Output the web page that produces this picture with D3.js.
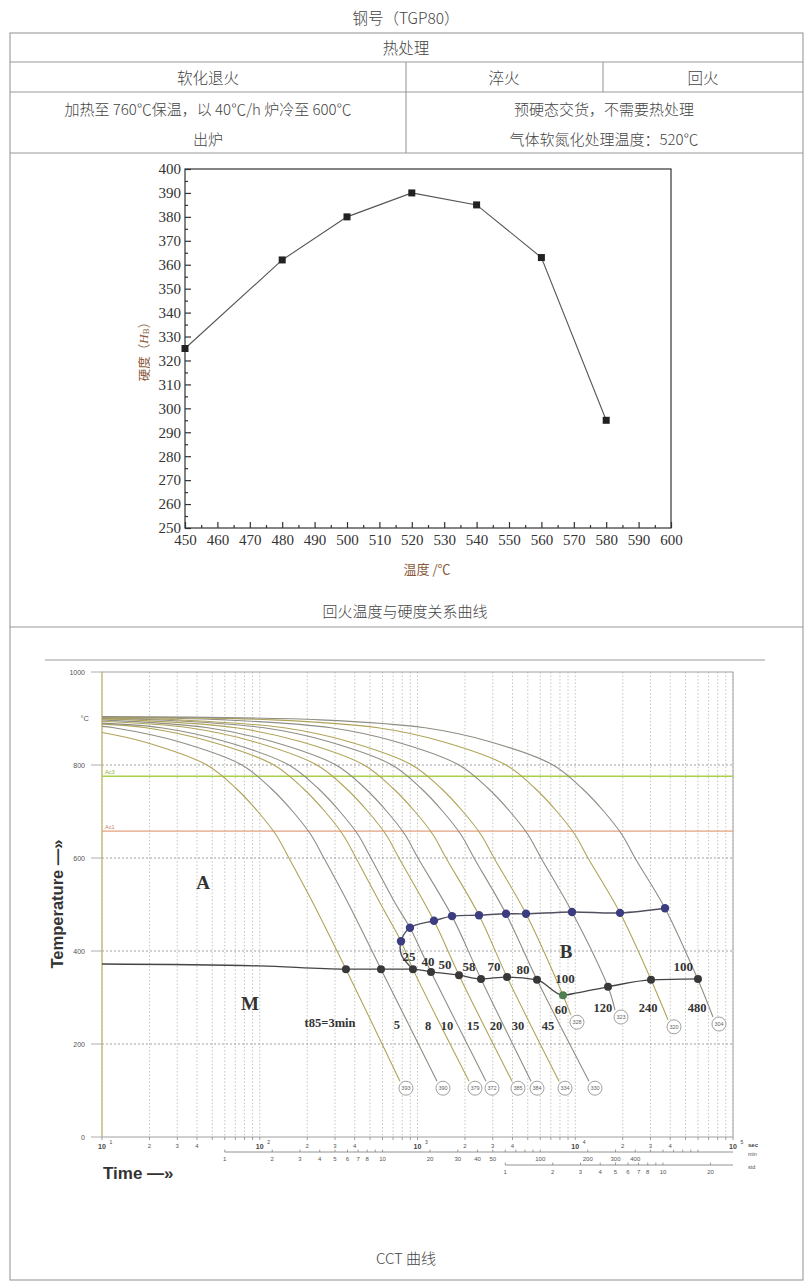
<!DOCTYPE html>
<html><head><meta charset="utf-8">
<script src="https://cdn.jsdelivr.net/npm/d3@7"></script>
<style>body{margin:0;background:#fff}</style>
</head><body>
<svg id="c" width="812" height="1288" xmlns="http://www.w3.org/2000/svg"></svg>
<script>
// ---------------- DATA ----------------
const title = "钢号（TGP80）";
const tableHeader = "热处理";
const tableCols = ["软化退火", "淬火", "回火"];
const tableBodyLeft = ["加热至 760℃保温，以 40℃/h 炉冷至 600℃", "出炉"];
const tableBodyRight = ["预硬态交货，不需要热处理", "气体软氮化处理温度：520℃"];

// tempering temperature vs hardness
const hardTemps  = [450, 480, 500, 520, 540, 560, 580];
const hardValues = [325, 362, 380, 390, 385, 363, 295];
const hardXTicks = [450,460,470,480,490,500,510,520,530,540,550,560,570,580,590,600];
const hardYTicks = [250,260,270,280,290,300,310,320,330,340,350,360,370,380,390,400];
const hardCaption = "回火温度与硬度关系曲线";

// CCT diagram  (time in s, temperature in °C)
const cctYTicks = [0, 200, 400, 600, 800, 1000];
const ac3Temp = 776, ac1Temp = 658;
const curve01 = [[10,870],[18.4,850],[46.2,800],[70.6,750],[97.2,700],[126.7,650],[153,600],[220,500],[352,361],[774,120]];
const curve02 = [[10,883],[11.9,880],[30.7,850],[77,800],[117.6,750],[162,700],[211,650],[255,600],[367,500],[587,361],[1329,120]];
const curve03 = [[10,888],[19,880],[49.1,850],[123,800],[188,750],[259,700],[337,650],[407.5,600],[586,500],[786,421],[936,361],[2121,120]];
const curve04 = [[10,890],[23.7,880],[61.1,850],[153,800],[234,750],[322,700],[420,650],[507,600],[730,500],[896,450],[1218,355],[2718,120]];
const curve05 = [[10,894],[35.6,880],[91.9,850],[230,800],[352,750],[485,700],[632,650],[763,600],[1272,465],[1833,348],[3972,120]];
const curve06 = [[10,897],[47,880],[121,850],[304,800],[465,750],[640,700],[834,650],[1007,600],[1655,475],[2527,340],[5243,120]];
const curve07 = [[10,899],[15.3,897],[70.8,880],[183,850],[458,800],[699,750],[963,700],[1255,650],[1516,600],[2454,477],[3694,344],[7889,120]];
const curve08 = [[10,900],[23,897],[106.5,880],[275,850],[689,800],[1052,750],[1449,700],[1888,650],[2281,600],[3640,480],[5722,338],[12220,120]];
const curve09 = [[10,901],[30.8,897],[142.6,880],[368,850],[922,800],[1409,750],[1940,700],[2528,650],[3054,600],[4873,480],[8362,305],[9397,262]];
const curve10 = [[10,902],[61,897],[283,880],[731,850],[1832,800],[2798,750],[3854,700],[5022,650],[6066,600],[9537,484],[16130,323],[17870,273]];
const curve11 = [[10,903],[121,897],[562,880],[1451,850],[3636,800],[5554,750],[7649,700],[9968,650],[12040,600],[19220,482],[30220,338],[38730,252]];
const curve12 = [[10,904],[241,897],[1117,880],[2882,850],[7224,800],[11030,750],[15200,700],[19800,650],[23920,600],[37070,492],[59980,338],[74650,258]];
const coolingCurves = [curve01,curve02,curve03,curve04,curve05,curve06,curve07,curve08,curve09,curve10,curve11,curve12];
const t85Labels = ["t85=3min","5","8","10","15","20","30","45","60","120","240","480"];
const hvLabels = ["393","390","379","372","385","384","334","330","328","323","320","304"];

const msLine = [[10,372],[100,368],[352,361],[587,361],[936,361],[1218,355],[1833,348],[2527,340],[3694,344],[5722,338],[8362,305],[10260,310],[16130,323],[30220,338],[59980,340]];
const msDots = [[352,361],[587,361],[936,361],[1218,355],[1833,348],[2527,340],[3694,344],[5722,338],[8362,305],[16130,323],[30220,338],[59980,340]];
const bsLine = [[936,361],[790,392],[786,421],[896,450],[1272,465],[1655,475],[2454,477],[3640,480],[4873,480],[9537,484],[19220,482],[37070,492]];
const bsDots = [[786,421],[896,450],[1272,465],[1655,475],[2454,477],[3640,480],[4873,480],[9537,484],[19220,482],[37070,492]];
const pctLabels = ["25","40","50","58","70","80","100","100"];

const secMinor = [2, 3, 4];
const minTickLabels = [1,2,3,4,5,6,7,8,10,20,30,40,50,100,200,300,400];
const hourTickLabels = [1,2,3,4,5,6,7,8,10,20];
const cctCaption = "CCT 曲线";

// ---------------- LAYOUT (annotation anchors in data units) ----------------
const t85Pos = [[279,245],[741,241],[1166,239],[1538,239],[2248,239],[3145,239],[4335,239],[6720,239],[8124,273],[14990,277],[28930,277],[59140,277]];
const pctPos = [[883,389],[1166,378],[1494,370],[2121,366],[3055,366],[4665,361],[8610,340],[48370,366]];
const phasePos = [["A",43.7,548],["B",8737,400],["M",86.7,288]];

// ---------------- DRAW ----------------
const svg = d3.select("#c");
const CJK = "'Noto Sans CJK SC','Noto Sans',sans-serif";
const SERIF = "'Liberation Serif','DejaVu Serif',serif";
const SANS = "'Liberation Sans','DejaVu Sans',Arial,sans-serif";
const TXT = "#444";

function txt(x, y, s, size, opts = {}) {
  return svg.append("text").attr("x", x).attr("y", y)
    .attr("text-anchor", opts.anchor || "middle")
    .attr("dominant-baseline", "central")
    .style("font-family", opts.family || CJK)
    .style("font-size", size + "px")
    .style("font-weight", opts.weight || (opts.family ? 400 : 300))
    .style("fill", opts.fill || TXT)
    .text(s);
}

// title + table
txt(406, 17, title, 15.5);
const tbl = svg.append("g").attr("stroke", "#9a9a9a").attr("stroke-width", 1.1).attr("fill", "none");
tbl.append("rect").attr("x", 10).attr("y", 33).attr("width", 793).attr("height", 1247);
[62, 92, 153, 627].forEach(y => tbl.append("line").attr("x1", 10).attr("x2", 803).attr("y1", y).attr("y2", y));
tbl.append("line").attr("x1", 406).attr("x2", 406).attr("y1", 62).attr("y2", 153);
tbl.append("line").attr("x1", 603).attr("x2", 603).attr("y1", 62).attr("y2", 92);
txt(406, 47, tableHeader, 15.5);
txt(208, 77, tableCols[0], 15.5);
txt(504, 77, tableCols[1], 15.5);
txt(703, 77, tableCols[2], 15.5);
txt(208, 108, tableBodyLeft[0], 15);
txt(208, 138, tableBodyLeft[1], 15);
txt(604, 108, tableBodyRight[0], 15);
txt(604, 138, tableBodyRight[1], 15);

// ---- hardness chart ----
const hx = d3.scaleLinear().domain([450, 600]).range([185, 671]);
const hy = d3.scaleLinear().domain([250, 400]).range([528, 169]);
const gH = svg.append("g");
const styleAxis = g => {
  g.select(".domain").remove();
  g.selectAll("line").attr("stroke", "#333").attr("stroke-width", 1.2);
  g.selectAll("text").style("font-family", SERIF).style("font-size", "15px").style("fill", "#333");
};
gH.append("g").attr("transform", "translate(0,528)")
  .call(d3.axisBottom(hx).tickValues(hardXTicks).tickSize(-6).tickPadding(6).tickFormat(d3.format("d"))).call(styleAxis);
gH.append("g").attr("transform", "translate(0,528)")
  .call(d3.axisBottom(hx).tickValues(hardXTicks.slice(0, -1).map(v => v + 5)).tickSize(-3).tickFormat("")).call(styleAxis);
gH.append("g").attr("transform", "translate(185,0)")
  .call(d3.axisLeft(hy).tickValues(hardYTicks).tickSize(-6).tickPadding(4).tickFormat(d3.format("d"))).call(styleAxis);
gH.append("g").attr("transform", "translate(185,0)")
  .call(d3.axisLeft(hy).tickValues(hardYTicks.slice(0, -1).map(v => v + 5)).tickSize(-3).tickFormat("")).call(styleAxis);
gH.append("rect").attr("x", hx(450)).attr("y", hy(400)).attr("width", hx(600) - hx(450)).attr("height", hy(250) - hy(400))
  .attr("fill", "none").attr("stroke", "#333").attr("stroke-width", 1.2);
const hData = hardTemps.map((t, i) => [t, hardValues[i]]);
gH.append("path").attr("d", d3.line().x(d => hx(d[0])).y(d => hy(d[1]))(hData))
  .attr("fill", "none").attr("stroke", "#555").attr("stroke-width", 1.1);
gH.selectAll("rect.pt").data(hData).enter().append("rect").attr("class", "pt")
  .attr("x", d => hx(d[0]) - 3.5).attr("y", d => hy(d[1]) - 3.5).attr("width", 7).attr("height", 7).attr("fill", "#222");
// axis titles
const yl = svg.append("text").attr("transform", `translate(143,${hy(325)}) rotate(-90)`)
  .attr("text-anchor", "middle").attr("dominant-baseline", "central")
  .style("font-family", CJK).style("font-size", "12.5px").style("fill", "#8a5a3a");
yl.append("tspan").text("硬度（");
yl.append("tspan").style("font-family", SERIF).style("font-style", "italic").style("font-size", "13px").text("H");
yl.append("tspan").style("font-family", SERIF).style("font-size", "9px").attr("dy", 3).text("B");
yl.append("tspan").attr("dy", -3).text("）");
txt(427, 568, "温度 /℃", 13, { fill: "#8a5a3a", weight: 400 });
txt(405, 610, hardCaption, 15);

// ---- CCT chart ----
const cx = d3.scaleLog().domain([10, 1e5]).range([102, 733]);
const cy = d3.scaleLinear().domain([0, 1000]).range([1137, 672]);
const gC = svg.append("g");
gC.append("line").attr("x1", 45).attr("x2", 765).attr("y1", 660).attr("y2", 660).attr("stroke", "#999").attr("stroke-width", 1.2);
// vertical grid
const vt = cx.ticks();
gC.selectAll("line.vg").data(vt).enter().append("line").attr("class", "vg")
  .attr("x1", d => cx(d)).attr("x2", d => cx(d)).attr("y1", cy(1000)).attr("y2", cy(0))
  .attr("stroke", "#b8b8b0").attr("stroke-width", 0.8).attr("stroke-dasharray", "1.5,2");
// horizontal grid
gC.selectAll("line.hg").data(cctYTicks.filter(v => v > 0 && v < 1000)).enter().append("line").attr("class", "hg")
  .attr("x1", cx(10)).attr("x2", cx(1e5)).attr("y1", d => cy(d)).attr("y2", d => cy(d))
  .attr("stroke", "#888").attr("stroke-width", 0.8).attr("stroke-dasharray", "2,2");
// frame
gC.append("rect").attr("x", cx(10)).attr("y", cy(1000)).attr("width", cx(1e5) - cx(10)).attr("height", cy(0) - cy(1000))
  .attr("fill", "none").attr("stroke", "#a0a0a0").attr("stroke-width", 1);
gC.append("line").attr("x1", cx(10)).attr("x2", cx(10)).attr("y1", cy(1000)).attr("y2", cy(0)).attr("stroke", "#d8cc80").attr("stroke-width", 1.2);
// y ticks
gC.selectAll("line.yt").data(cctYTicks).enter().append("line").attr("class", "yt")
  .attr("x1", 91).attr("x2", 102).attr("y1", d => cy(d)).attr("y2", d => cy(d)).attr("stroke", "#999").attr("stroke-width", 0.8);
cctYTicks.forEach(v => txt(85, cy(v), String(v), 7, { anchor: "end", family: SANS, fill: "#555" }));
txt(89, cy(900), "°C", 7.5, { anchor: "end", family: SANS, fill: "#555" });
// Ac lines
gC.append("line").attr("x1", cx(10)).attr("x2", cx(1e5)).attr("y1", cy(ac3Temp)).attr("y2", cy(ac3Temp)).attr("stroke", "#a8d048").attr("stroke-width", 1.5);
gC.append("line").attr("x1", cx(10)).attr("x2", cx(1e5)).attr("y1", cy(ac1Temp)).attr("y2", cy(ac1Temp)).attr("stroke", "#e4a080").attr("stroke-width", 1.2);
txt(105, cy(ac3Temp) - 4, "Ac3", 5.5, { anchor: "start", family: SANS, fill: "#8ab030" });
txt(105, cy(ac1Temp) - 4, "Ac1", 5.5, { anchor: "start", family: SANS, fill: "#d08060" });

// cooling curves
const cl = d3.line().x(d => cx(d[0])).y(d => cy(d[1])).curve(d3.curveCatmullRom.alpha(0.5));
coolingCurves.forEach((c, i) => {
  gC.append("path").attr("d", cl(c)).attr("fill", "none")
    .attr("stroke", i % 2 ? "#8f8d84" : "#b0a458").attr("stroke-width", 1.1);
});
// Ms line
gC.append("path").attr("d", d3.line().x(d => cx(d[0])).y(d => cy(d[1])).curve(d3.curveMonotoneX)(msLine))
  .attr("fill", "none").attr("stroke", "#444").attr("stroke-width", 1.3);
// Bs line
gC.append("path").attr("d", cl(bsLine))
  .attr("fill", "none").attr("stroke", "#505060").attr("stroke-width", 1.4);
gC.selectAll("circle.ms").data(msDots).enter().append("circle").attr("class", "ms")
  .attr("cx", d => cx(d[0])).attr("cy", d => cy(d[1])).attr("r", 4)
  .attr("fill", (d, i) => i === 8 ? "#4f7f4f" : "#383838");
gC.selectAll("circle.bs").data(bsDots).enter().append("circle").attr("class", "bs")
  .attr("cx", d => cx(d[0])).attr("cy", d => cy(d[1])).attr("r", 4.2).attr("fill", "#3c3c80");
// hardness circles at curve ends
coolingCurves.forEach((c, i) => {
  const e = c[c.length - 1];
  const px = cx(e[0]) + 6, py = cy(e[1]) + 7;
  gC.append("circle").attr("cx", px).attr("cy", py).attr("r", 7).attr("fill", "#fff").attr("stroke", "#888").attr("stroke-width", 0.8);
  txt(px, py, hvLabels[i], 5.5, { family: SANS, fill: "#666" });
});
// labels
t85Labels.forEach((s, i) => txt(cx(t85Pos[i][0]), cy(t85Pos[i][1]), s, 12.5, { family: SERIF, weight: 700, fill: "#333" }));
pctLabels.forEach((s, i) => txt(cx(pctPos[i][0]), cy(pctPos[i][1]), s, 13, { family: SERIF, weight: 700, fill: "#333" }));
phasePos.forEach(p => txt(cx(p[1]), cy(p[2]), p[0], 19, { family: SERIF, weight: 700, fill: "#333" }));

// bottom time axes
const axY = 1137;
gC.selectAll("line.xt").data(vt).enter().append("line").attr("class", "xt")
  .attr("x1", d => cx(d)).attr("x2", d => cx(d)).attr("y1", axY).attr("y2", axY + 3).attr("stroke", "#888").attr("stroke-width", 0.8);
[1, 2, 3, 4, 5].forEach(k => {
  const v = Math.pow(10, k);
  txt(cx(v), 1146, "10", 7, { family: SANS, weight: 700, fill: "#444" });
  txt(cx(v) + 9, 1142, String(k), 5, { family: SANS, fill: "#444" });
  if (k < 5) secMinor.forEach(m => txt(cx(m * v), 1146, String(m), 6, { family: SANS, fill: "#555" }));
});
txt(748, 1145, "sec", 6, { anchor: "start", family: SANS, weight: 700, fill: "#444" });
// minutes
const minY = 1152;
gC.append("line").attr("x1", cx(60)).attr("x2", cx(1e5)).attr("y1", minY).attr("y2", minY).attr("stroke", "#777").attr("stroke-width", 0.8);
const minTicks = d3.scaleLog().domain([1, 1e5 / 60]).ticks().filter(m => m * 60 <= 1e5);
gC.selectAll("line.mt").data(minTicks).enter().append("line").attr("class", "mt")
  .attr("x1", d => cx(d * 60)).attr("x2", d => cx(d * 60)).attr("y1", minY).attr("y2", minY - 2.5).attr("stroke", "#777").attr("stroke-width", 0.7);
minTickLabels.forEach(m => txt(cx(m * 60), minY + 7, String(m), 6, { family: SANS, fill: "#555" }));
txt(748, minY + 2, "min", 5.5, { anchor: "start", family: SANS, fill: "#555" });
// hours
const hrY = 1165;
gC.append("line").attr("x1", cx(3600)).attr("x2", cx(1e5)).attr("y1", hrY).attr("y2", hrY).attr("stroke", "#777").attr("stroke-width", 0.8);
const hrTicks = d3.scaleLog().domain([1, 1e5 / 3600]).ticks().filter(h => h * 3600 <= 1e5);
gC.selectAll("line.ht").data(hrTicks).enter().append("line").attr("class", "ht")
  .attr("x1", d => cx(d * 3600)).attr("x2", d => cx(d * 3600)).attr("y1", hrY).attr("y2", hrY - 2.5).attr("stroke", "#777").attr("stroke-width", 0.7);
hourTickLabels.forEach(h => txt(cx(h * 3600), hrY + 7, String(h), 6, { family: SANS, fill: "#555" }));
txt(748, hrY + 2, "std", 5.5, { anchor: "start", family: SANS, fill: "#555" });

// axis titles
svg.append("text").attr("transform", "translate(57,904) rotate(-90)").attr("text-anchor", "middle").attr("dominant-baseline", "central")
  .style("font-family", SANS).style("font-weight", 700).style("font-size", "16.5px").style("fill", "#333").text("Temperature —»");
txt(103, 1173, "Time —»", 17, { anchor: "start", family: SANS, weight: 700, fill: "#333" });
txt(406, 1257, cctCaption, 15);
</script>
</body></html>
